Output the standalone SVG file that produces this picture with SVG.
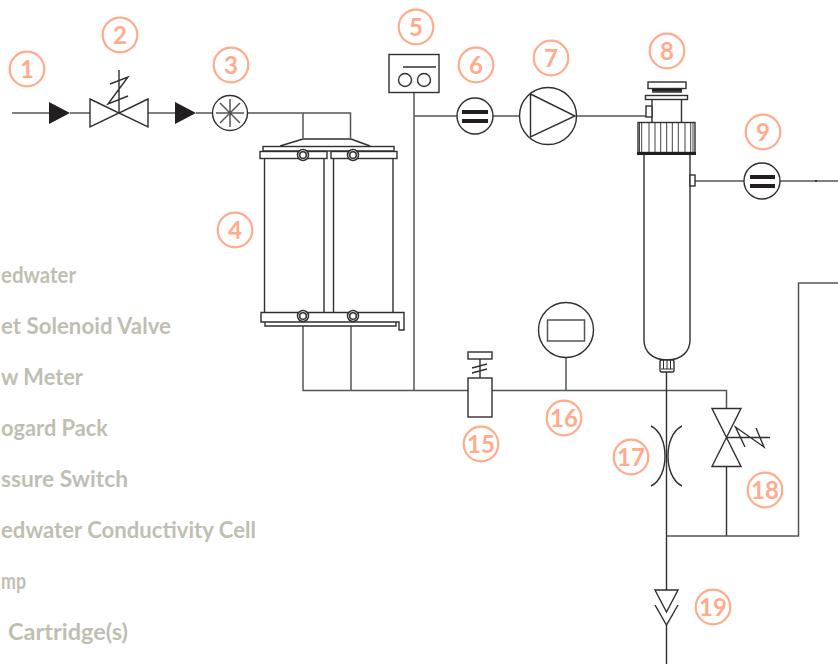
<svg xmlns="http://www.w3.org/2000/svg" width="838" height="664" viewBox="0 0 838 664">
<style>
.l{fill:none;stroke:#2f2f2f;stroke-width:1.4}
.w{fill:#fff;stroke:#2f2f2f;stroke-width:1.4}
.p{fill:none;stroke:#555;stroke-width:1.5}
.k{fill:#231f20;stroke:none}
.n{fill:none;stroke:#ffab8c;stroke-width:2.2}
.d{fill:#ffab8c;font-family:"Lato","Open Sans",sans-serif;font-size:24px;font-weight:700;text-anchor:middle}
.t{fill:#bfbfb1;font-family:"Lato","Open Sans",sans-serif;font-size:23px;font-weight:700}
</style>
<defs>
<g id="num"><circle r="17.3" class="n"/></g>
</defs>
<rect width="838" height="664" fill="#fff"/>
<g id="connectors">
<path class="p" d="M12 113H49M70 113H90M148 113H175M196 113H213M247.500 113H350.500V138M303 113V138"/>
<path class="p" d="M303 326V390.500H468M492 390.500H726.500V408M351 326V390.500M414 92V390.500M414 116H457M493 116H520M577 116H646M566 358V390.500"/>
<path class="p" d="M695 181H744M780 181H838"/>
<path class="l" d="M666.500 372V590M666.500 625V664"/>
<path class="l" d="M726.500 466V536"/>
<path class="p" d="M666.500 536H798.500V283H838"/>
<circle cx="816" cy="181" r="1" fill="#231f20"/>
</g>
<g id="legend">
<text class="t" x="1" y="283" textLength="75" lengthAdjust="spacingAndGlyphs">edwater</text>
<text class="t" x="1" y="334" textLength="170" lengthAdjust="spacingAndGlyphs">et Solenoid Valve</text>
<text class="t" x="1" y="385" textLength="82" lengthAdjust="spacingAndGlyphs">w Meter</text>
<text class="t" x="1" y="436" textLength="107" lengthAdjust="spacingAndGlyphs">ogard Pack</text>
<text class="t" x="1" y="487" textLength="127" lengthAdjust="spacingAndGlyphs">ssure Switch</text>
<text class="t" x="1" y="538" textLength="255" lengthAdjust="spacingAndGlyphs">edwater Conductivity Cell</text>
<text class="t" x="1" y="589" textLength="25" lengthAdjust="spacingAndGlyphs">mp</text>
<text class="t" x="8" y="640" textLength="120" lengthAdjust="spacingAndGlyphs">Cartridge(s)</text>
</g>
<g id="check-1"><path class="k" d="M49 102L70 113L49 124Z"/></g>
<g id="valve-2">
<path class="w" d="M90 99L119 113L90 127ZM148 99L119 113L148 127Z"/>
<path class="l" d="M119 70V113M110 84L128 77L108 104L128 96"/>
</g>
<g id="check-2"><path class="k" d="M175 102L196 113L175 124Z"/></g>
<g id="flow-3">
<circle class="l" cx="230" cy="113" r="17.500"/>
<path class="p" d="M230 99V127M216 113H244M220 103L240 123M240 103L220 123" stroke-width="1"/>
</g>
<g id="pack-4">
<path class="l" d="M280 146L303 139H351L370 146"/>
<rect class="w" x="263" y="146.500" width="131" height="4.500"/>
<rect class="w" x="260" y="151.500" width="67" height="7"/>
<rect class="w" x="331" y="151.500" width="66" height="7"/>
<path class="l" d="M264.500 159V312M324 159V312M333.500 159V312M393 159V312"/>
<path class="w" d="M261 312.500H404V330H399V322H261Z"/>
<path class="l" d="M265 322V326H396V322"/>
<g fill="#fff" stroke="#2f2f2f" stroke-width="1.500">
<circle cx="303" cy="155" r="5.500"/><circle cx="303" cy="155" r="3.300"/>
<circle cx="353" cy="155" r="5.500"/><circle cx="353" cy="155" r="3.300"/>
<circle cx="303" cy="316" r="5.500"/><circle cx="303" cy="316" r="3.300"/>
<circle cx="353" cy="316" r="5.500"/><circle cx="353" cy="316" r="3.300"/>
</g>
</g>
<g id="switch-5">
<rect class="w" x="389" y="54.500" width="50" height="38"/>
<path class="l" d="M403 67H436"/>
<circle class="l" cx="405" cy="80" r="6.500"/>
<circle class="l" cx="424" cy="80" r="6.500"/>
</g>
<g id="cell-6">
<circle class="w" cx="475" cy="116" r="18"/>
<rect class="k" x="462" y="110" width="26" height="4"/>
<rect class="k" x="462" y="119" width="26" height="4"/>
</g>
<g id="pump-7">
<circle class="w" cx="548" cy="116" r="28.500"/>
<path class="l" d="M530.500 94L575 116L530.500 137Z"/>
</g>
<g id="cartridge-8">
<rect class="w" x="648" y="82" width="38" height="6.500"/>
<rect class="k" x="652" y="89" width="30" height="2.500"/>
<path class="l" d="M652 92H682M652 95V122M681.500 95V122"/>
<rect class="w" x="645.500" y="95.500" width="42" height="4"/>
<rect class="w" x="646" y="106" width="6" height="11"/>
<rect class="w" x="638" y="122.500" width="57" height="30"/>
<path class="l" stroke-width="0.900" style="stroke-width:.9" d="M639.500 122V152M641.700 122V152M649 122V152M655 122V152M660.700 122V152M666.700 122V152M672.300 122V152M678.300 122V152M685 122V152M690.700 122V152M693 122V152"/>
<rect class="k" x="637" y="152" width="59" height="3"/>
<path class="l" d="M644 155V340C644 351 652 360 667 360C682 360 690 351 690 340V155"/>
<rect class="w" x="660" y="360" width="14" height="12" rx="1.500"/>
<path class="l" style="stroke-width:1" d="M663.500 360V369M667 360V369M670.500 360V369M661 369H673"/>
<rect class="w" x="690" y="175" width="5" height="11"/>
</g>
<g id="cell-9">
<circle class="w" cx="762" cy="181" r="18"/>
<rect class="k" x="750" y="175" width="25" height="4"/>
<rect class="k" x="750" y="184" width="25" height="4"/>
</g>
<g id="regulator-15">
<rect class="w" x="468" y="352" width="24" height="7"/>
<rect class="w" x="468" y="378" width="24" height="39"/>
<path class="l" d="M480 359V378M472 368L487 364M472 373L487 369"/>
</g>
<g id="gauge-16">
<circle class="w" cx="566" cy="330" r="27.500"/>
<rect class="p" x="547.500" y="320" width="37" height="21"/>
</g>
<g id="orifice-17">
<path class="l" d="M651 426C661 431 665 444 665 456C665 468 661 481 651 486M682 426C672 431 668 444 668 456C668 468 672 481 682 486"/>
</g>
<g id="valve-18">
<path class="w" d="M712 408.500H741L712 466.500H741Z"/>
<path class="l" d="M726.500 437.500H770M745 447L735.500 427L764 447L756 428"/>
</g>
<g id="check-19">
<path class="w" d="M655 590H678L666.500 612Z"/>
<path class="l" d="M655 605L666.500 625L678 605"/>
</g>
<g id="labels">
<use href="#num" x="27" y="69"/><text class="d" x="27" y="78">1</text>
<use href="#num" x="120" y="35"/><text class="d" x="120" y="44">2</text>
<use href="#num" x="231" y="65"/><text class="d" x="231" y="74">3</text>
<use href="#num" x="235" y="230"/><text class="d" x="235" y="239">4</text>
<use href="#num" x="416" y="27"/><text class="d" x="416" y="36">5</text>
<use href="#num" x="476" y="65"/><text class="d" x="476" y="74">6</text>
<use href="#num" x="551" y="58"/><text class="d" x="551" y="67">7</text>
<use href="#num" x="667" y="51"/><text class="d" x="667" y="60">8</text>
<use href="#num" x="763" y="132"/><text class="d" x="763" y="141">9</text>
<use href="#num" x="481" y="444"/><text class="d" x="481" y="453">15</text>
<use href="#num" x="564" y="418"/><text class="d" x="564" y="427">16</text>
<use href="#num" x="631" y="457"/><text class="d" x="631" y="466">17</text>
<use href="#num" x="765" y="490"/><text class="d" x="765" y="499">18</text>
<use href="#num" x="713" y="607"/><text class="d" x="713" y="616">19</text>
</g>
</svg>
